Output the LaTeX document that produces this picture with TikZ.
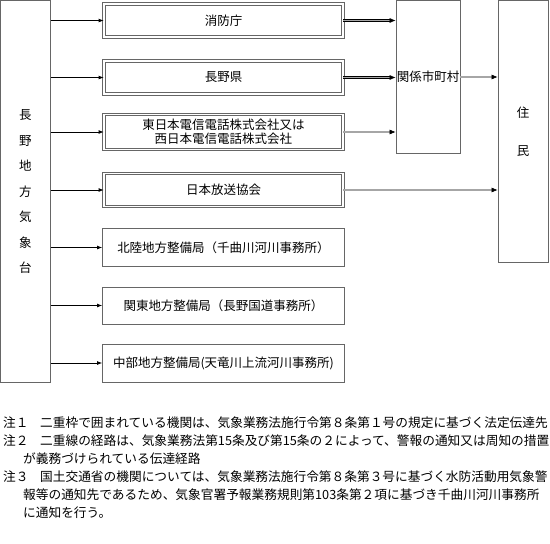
\documentclass[tikz,border=0pt]{standalone}
\usepackage{fontspec}
\setmainfont{Noto Sans CJK JP}
\usetikzlibrary{arrows.meta}
\begin{document}
\begin{tikzpicture}[x=1pt,y=-1pt,
	frame/.style={ draw=black!60, line width=0.8pt, inner sep=0pt, align=center, font=\fontsize{12.5}{14}\selectfont },
	box/.style={ frame, minimum width=242pt, minimum height=38pt },
	dbox/.style={ frame, double=white, double distance=1.6pt, minimum width=239pt, minimum height=33pt },
	arr/.style={ line width=0.8pt, -{Latex[length=5pt,width=4pt]} },
	dblarr/.style={ draw=black, line width=0.6pt, double=black!35, double distance=1.2pt, -{Latex[length=6pt,width=5pt]} },
	note/.style={ anchor=west, inner sep=0pt, font=\fontsize{12.7}{18}\selectfont }
]
\useasboundingbox (0,0) rectangle (550,544);

\node at (25.5,191.5) (jma) [frame, minimum width=50pt, minimum height=382pt, font=\fontsize{12.5}{25.5}\selectfont] {長\\野\\地\\方\\気\\象\\台};

\node at (223.5,20.5) (shobo) [dbox] {消防庁};
\node at (223.5,77.5) (ken) [dbox] {長野県};
\node at (223.5,132) (ntt) [dbox, minimum height=35pt] {東日本電信電話株式会社又は\\西日本電信電話株式会社};
\node at (223.5,190) (nhk) [dbox] {日本放送協会};
\node at (223.5,247.5) (hokuriku) [box] {北陸地方整備局（千曲川河川事務所）};
\node at (223.5,305.5) (kanto) [box, minimum height=37pt] {関東地方整備局（長野国道事務所）};
\node at (223.5,363) (chubu) [box] {中部地方整備局(天竜川上流河川事務所)};

\node at (428,77) (shichoson) [frame, minimum width=64pt, minimum height=153pt] {関係市町村};
\node at (523,131.5) (jumin) [frame, minimum width=50pt, minimum height=262pt, font=\fontsize{12.5}{38}\selectfont] {住\\民};

% 気象台から各機関へ
\foreach \t in {shobo,ken,ntt,nhk,hokuriku,kanto,chubu}
	\draw[arr] (jma.east |- \t.west) -- (\t.west);

% 法定伝達の経路
\foreach \t in {shobo,ken,ntt}
	\draw[dblarr] (\t.east) -- (\t.east -| shichoson.west);
\draw[dblarr] (shichoson.east) -- (shichoson.east -| jumin.west);
\draw[dblarr] (nhk.east) -- (nhk.east -| jumin.west);

% 注
\node at (3,423) (n1) [note] {注１};
\node at (40,423) (n1a) [note] {二重枠で囲まれている機関は、気象業務法施行令第８条第１号の規定に基づく法定伝達先};
\node at (3,441) (n2) [note] {注２};
\node at (40,441) (n2a) [note] {二重線の経路は、気象業務法第15条及び第15条の２によって、警報の通知又は周知の措置};
\node at (23,459) (n2b) [note] {が義務づけられている伝達経路};
\node at (3,477) (n3) [note] {注３};
\node at (40,477) (n3a) [note] {国土交通省の機関については、気象業務法施行令第８条第３号に基づく水防活動用気象警};
\node at (23,495) (n3b) [note] {報等の通知先であるため、気象官署予報業務規則第103条第２項に基づき千曲川河川事務所};
\node at (23,513) (n3c) [note] {に通知を行う。};

\end{tikzpicture}
\end{document}
